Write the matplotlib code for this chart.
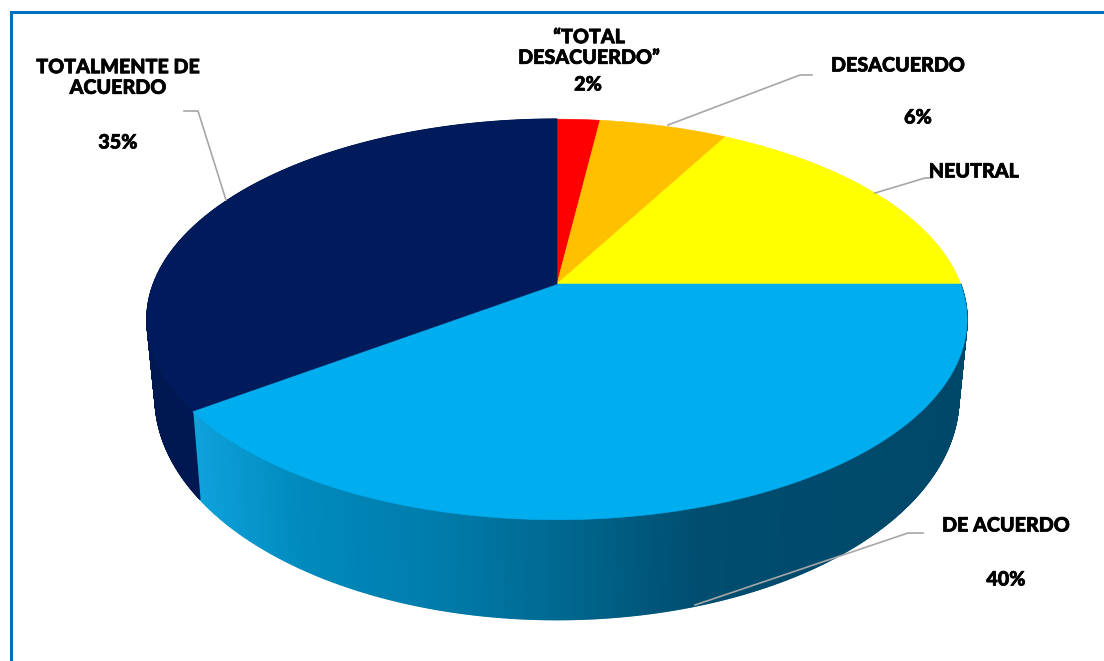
import numpy as np
import matplotlib
matplotlib.use('Agg')
import matplotlib.pyplot as plt
import matplotlib.patheffects as pe
from matplotlib.collections import PolyCollection
from matplotlib.colors import LinearSegmentedColormap

categories = ['“TOTAL\nDESACUERDO”', 'DESACUERDO', 'NEUTRAL', 'DE ACUERDO', 'TOTALMENTE DE\nACUERDO']
values = [2, 6, 17, 40, 35]
colors = ['#FF0000', '#FFC000', '#FFFF00', '#00AEEF', '#001B5C']

plt.rcParams['font.family'] = ['Lato', 'DejaVu Sans']

fig = plt.figure(figsize=(11.04, 6.61), dpi=100)
ax = fig.add_axes([0, 0, 1, 1])
ax.set_xlim(0, 1104)
ax.set_ylim(661, 0)
ax.axis('off')

# pie geometry, in pixels
cx, cy = 557, 284
persp = 0.177
A, B = 403.6, 194.0
shrink_x, shrink_y, depth = 0.98, 1.11, 74


def top_rim(theta):
    # theta runs clockwise from twelve o'clock
    u, v = np.sin(theta), np.cos(theta)
    w = 1 + persp*v
    return A*u/w, -B*v/w


def face(a0, a1):
    t = np.linspace(a0, a1, 200)
    x, y = top_rim(t)
    return np.r_[cx, cx + x], np.r_[cy, cy + y]


# side wall shading goes by x position
blue_wall = LinearSegmentedColormap.from_list('blue_wall', [
    (0.0, '#0FA2DC'), (0.14, '#008ABD'), (0.32, '#007CAB'), (0.50, '#00658C'),
    (0.66, '#004D6F'), (1.0, '#00486A')])
navy_wall = LinearSegmentedColormap.from_list('navy_wall', ['#001852', '#001852'])
wall_maps = [None, None, None, blue_wall, navy_wall]

edges = 2*np.pi*np.cumsum([0] + values)/sum(values)

# walls first, the top faces cover whatever is at the back
for i, cmap in enumerate(wall_maps):
    if cmap is None:
        continue
    t = np.linspace(edges[i], edges[i+1], 500)
    x, y = top_rim(t)
    xt, yt = cx + x, cy + y
    xb, yb = cx + x*shrink_x, cy + y*shrink_y + depth
    quads = [[(xt[j], yt[j]), (xt[j+1], yt[j+1]), (xb[j+1], yb[j+1]), (xb[j], yb[j])]
             for j in range(len(t)-1)]
    shade = cmap((xt[:-1] - 190)/(967 - 190))
    ax.add_collection(PolyCollection(quads, facecolors=shade, edgecolors=shade, linewidths=1.0))

for i in range(len(values)):
    xs, ys = face(edges[i], edges[i+1])
    ax.fill(xs, ys, color=colors[i], lw=0.4)

# leader lines
leaders = [
    ([184, 198, 226], [111, 111, 200]),
    ([668, 800, 812], [125, 75, 75]),
    ([875, 925, 932], [193, 178, 178]),
    ([695, 908, 923], [605, 533, 533]),
]
for lx, ly in leaders:
    ax.plot(lx, ly, color='#A6A6A6', lw=1.2, solid_joinstyle='miter')

# labels, with a thin stroke to thicken the bold
txt = dict(fontsize=14.2, fontweight=900, color='black', ha='center', va='center', linespacing=1.1,
           path_effects=[pe.withStroke(linewidth=0.5, foreground='black')])
ax.text(118, 77, categories[4], **txt)
ax.text(118, 142, f'{values[4]}%', **txt)
ax.text(589, 47, categories[0], **txt)
ax.text(588, 84, f'{values[0]}%', **txt)
ax.text(898, 65, categories[1], **txt)
ax.text(918, 117, f'{values[1]}%', **txt)
ax.text(974, 171, categories[2], **txt)
ax.text(1006, 525, categories[3], **txt)
ax.text(1006, 579, f'{values[3]}%', **txt)

# chart frame
ax.plot([10.5, 10.5, 1104], [661, 12, 12], color='#0070C0', lw=2.2, solid_joinstyle='miter')

fig.savefig('out.png', dpi=100, facecolor='white')
